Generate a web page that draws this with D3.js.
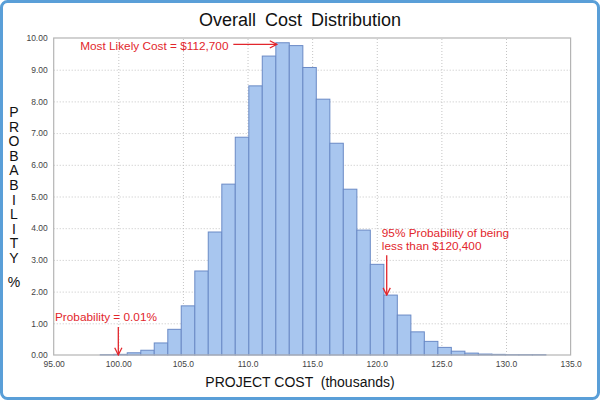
<!DOCTYPE html>
<html>
<head>
<meta charset="utf-8">
<script src="https://cdn.jsdelivr.net/npm/d3@7"></script>
<style>
  html, body { margin: 0; padding: 0; background: #fff; }
  svg { display: block; font-family: "Liberation Sans", Arial, sans-serif; }
</style>
</head>
<body>
<svg id="chart" width="600" height="400"></svg>
<script>
// ---- data ----
const binEdges = [98.60, 99.65, 100.69, 101.74, 102.78, 103.83, 104.87, 105.92, 106.96, 108.01,
  109.05, 110.10, 111.14, 112.19, 113.23, 114.28, 115.32, 116.37, 117.41, 118.46,
  119.50, 120.55, 121.59, 122.64, 123.68, 124.73, 125.77, 126.82, 127.86, 128.91,
  129.95, 131.00, 132.04, 133.09];
const probabilities = [0.01, 0.02, 0.07, 0.15, 0.38, 0.81, 1.55, 2.65, 3.88, 5.39,
  6.87, 8.49, 9.43, 9.85, 9.76, 9.07, 8.07, 6.68, 5.23, 3.94,
  2.86, 1.89, 1.26, 0.73, 0.43, 0.24, 0.12, 0.06, 0.03, 0.02,
  0.01, 0.01, 0.01];
const xTickValues = [95, 100, 105, 110, 115, 120, 125, 130, 135];
const xTickLabels = ["95.00", "100.00", "105.0", "110.0", "115.0", "120.0", "125.0", "130.0", "135.0"];
const yTickValues = [0, 1, 2, 3, 4, 5, 6, 7, 8, 9, 10];
const yTickLabels = ["0.00", "1.00", "2.00", "3.00", "4.00", "5.00", "6.00", "7.00", "8.00", "9.00", "10.00"];
const titleText = "Overall Cost Distribution";
const xTitle = "PROJECT COST  (thousands)";
const yTitleLetters = ["P", "R", "O", "B", "A", "B", "I", "L", "I", "T", "Y"];
const yTitleUnit = "%";
const mostLikelyText = "Most Likely Cost = $112,700";
const minText = "Probability = 0.01%";
const p95Lines = ["95% Probability of being", "less than $120,400"];

// ---- layout ----
const svg = d3.select("#chart");
const W = 600, H = 400;
const plot = { left: 53.7, right: 570.6, top: 38, bottom: 355 };
const x = d3.scaleLinear().domain([95, 135]).range([plot.left, plot.right]);
const y = d3.scaleLinear().domain([0, 10]).range([plot.bottom, plot.top]);
const red = "#e2262c";

svg.append("rect").attr("width", W).attr("height", H).attr("fill", "#fff");
// outer frame
svg.append("rect").attr("x", 1.5).attr("y", 1.5).attr("width", W - 3).attr("height", H - 3)
  .attr("rx", 6).attr("fill", "none").attr("stroke", "#5a9fd8").attr("stroke-width", 3);

// defs: arrow marker
const defs = svg.append("defs");
defs.append("marker").attr("id", "arr").attr("viewBox", "0 0 10 10")
  .attr("refX", 9).attr("refY", 5).attr("markerWidth", 9).attr("markerHeight", 9)
  .attr("markerUnits", "userSpaceOnUse").attr("orient", "auto")
  .append("path").attr("d", "M1,1 L9,5 L1,9").attr("fill", "none")
  .attr("stroke", red).attr("stroke-width", 1.4);

// gridlines
const gx = svg.append("g").attr("transform", `translate(0,${plot.bottom})`)
  .call(d3.axisBottom(x).tickValues(xTickValues.slice(1, -1)).tickSize(-(plot.bottom - plot.top)).tickFormat(""));
gx.select(".domain").remove();
gx.selectAll("line").attr("stroke", "#c4c4c4").attr("stroke-dasharray", "1,2");
const gy = svg.append("g").attr("transform", `translate(${plot.left},0)`)
  .call(d3.axisLeft(y).tickValues(yTickValues.slice(1, -1)).tickSize(-(plot.right - plot.left)).tickFormat(""));
gy.select(".domain").remove();
gy.selectAll("line").attr("stroke", "#c4c4c4").attr("stroke-dasharray", "1,2");

// bars
svg.append("g").selectAll("rect").data(probabilities).join("rect")
  .attr("x", (d, i) => x(binEdges[i]))
  .attr("width", (d, i) => x(binEdges[i + 1]) - x(binEdges[i]))
  .attr("y", d => y(d))
  .attr("height", d => y(0) - y(d))
  .attr("fill", "#a8c6ef")
  .attr("stroke", "#6a8ac6")
  .attr("stroke-width", 1);

// plot border
svg.append("rect").attr("x", plot.left).attr("y", plot.top)
  .attr("width", plot.right - plot.left).attr("height", plot.bottom - plot.top)
  .attr("fill", "none").attr("stroke", "#b4b4b4").attr("stroke-width", 1.2);

// axes labels
const ax = svg.append("g").attr("transform", `translate(0,${plot.bottom + 3})`)
  .call(d3.axisBottom(x).tickValues(xTickValues).tickSize(0).tickFormat((d, i) => xTickLabels[i]));
ax.select(".domain").remove();
ax.selectAll("text").attr("font-size", 8.5).attr("fill", "#444").attr("font-family", "Liberation Sans, Arial, sans-serif");
const ay = svg.append("g").attr("transform", `translate(${plot.left - 3},0)`)
  .call(d3.axisLeft(y).tickValues(yTickValues).tickSize(0).tickFormat((d, i) => yTickLabels[i]));
ay.select(".domain").remove();
ay.selectAll("text").attr("font-size", 8.5).attr("fill", "#444").attr("font-family", "Liberation Sans, Arial, sans-serif");

// titles
svg.append("text").attr("x", 300).attr("y", 26).attr("text-anchor", "middle")
  .attr("font-size", 18).attr("fill", "#111").attr("word-spacing", 4).text(titleText);
svg.append("text").attr("x", 300).attr("y", 387).attr("text-anchor", "middle")
  .attr("font-size", 14).attr("fill", "#111").style("white-space", "pre").text(xTitle);
svg.append("g").selectAll("text").data(yTitleLetters).join("text")
  .attr("x", 14).attr("y", (d, i) => 117 + i * 14.6).attr("text-anchor", "middle")
  .attr("font-size", 14).attr("fill", "#111").text(d => d);
svg.append("text").attr("x", 14).attr("y", 287).attr("text-anchor", "middle")
  .attr("font-size", 14).attr("fill", "#111").text(yTitleUnit);

// annotations
const ann = svg.append("g").attr("fill", red).attr("font-size", 11.8);
ann.append("text").attr("x", x(97.05)).attr("y", y(9.75) + 4).text(mostLikelyText);
svg.append("line").attr("x1", x(108.9)).attr("x2", x(112.28)).attr("y1", y(9.8)).attr("y2", y(9.8))
  .attr("stroke", red).attr("stroke-width", 1.3).attr("marker-end", "url(#arr)");

ann.append("text").attr("x", x(95.1)).attr("y", y(1.2) + 4).text(minText);
svg.append("line").attr("x1", x(100)).attr("x2", x(100)).attr("y1", y(0.88)).attr("y2", y(0))
  .attr("stroke", red).attr("stroke-width", 1.3).attr("marker-end", "url(#arr)");

ann.selectAll("text.p95").data(p95Lines).join("text").attr("class", "p95")
  .attr("x", x(120.39)).attr("y", (d, i) => y(3.85) + 4 + i * 13.5).text(d => d);
svg.append("line").attr("x1", x(120.77)).attr("x2", x(120.77)).attr("y1", y(3.15)).attr("y2", y(1.89))
  .attr("stroke", red).attr("stroke-width", 1.3).attr("marker-end", "url(#arr)");
</script>
</body>
</html>
